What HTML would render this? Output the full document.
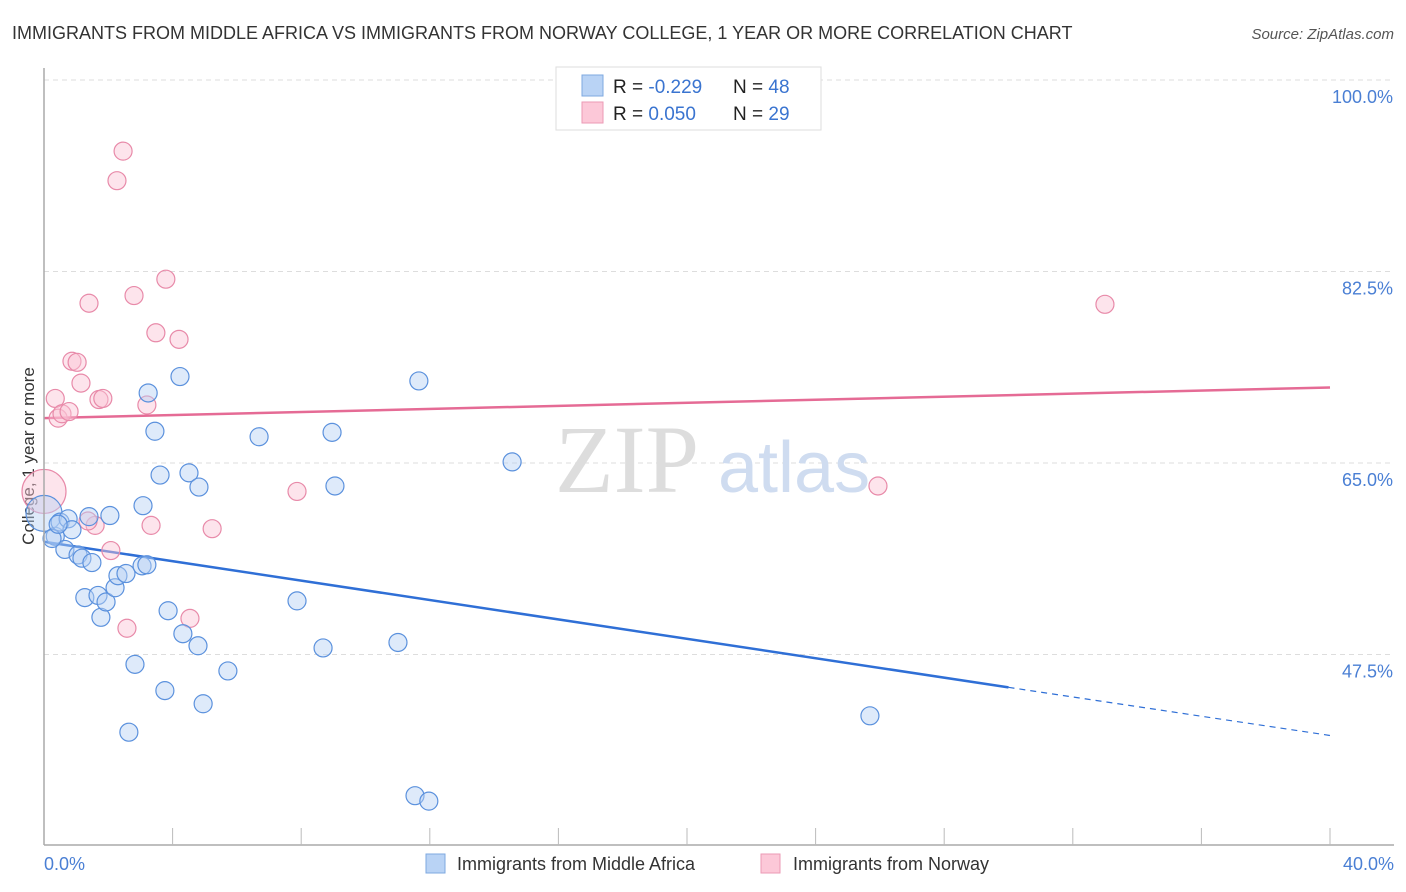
<!DOCTYPE html>
<html><head><meta charset="utf-8"><style>
body{margin:0;background:#fff;font-family:"Liberation Sans",sans-serif;}
svg{display:block}
</style></head><body>
<svg id="chart" width="1406" height="892" xmlns="http://www.w3.org/2000/svg">
<text x="12" y="39" font-size="18" fill="#333">IMMIGRANTS FROM MIDDLE AFRICA VS IMMIGRANTS FROM NORWAY COLLEGE, 1 YEAR OR MORE CORRELATION CHART</text>
<text x="1394" y="39" font-size="15" fill="#555" font-style="italic" text-anchor="end">Source: ZipAtlas.com</text>
<text transform="translate(34,456) rotate(-90)" font-size="17" fill="#333" text-anchor="middle">College, 1 year or more</text>
<g id="grid"></g>
<text x="555" y="492" font-size="96" fill="#ddd" font-family="Liberation Serif,serif">ZIP</text>
<text x="718" y="492" font-size="72" fill="#cfdcf0">atlas</text>
<g id="trend"></g>
<g id="points"></g>
<line x1="44" y1="68" x2="44" y2="845" stroke="#aaa" stroke-width="1.5"/>
<line x1="44" y1="845" x2="1394" y2="845" stroke="#aaa" stroke-width="1.5"/>
<g id="xticks"></g>
<text x="44" y="870" font-size="18" fill="#4a7fd4">0.0%</text>
<text x="1394" y="870" font-size="18" fill="#4a7fd4" text-anchor="end">40.0%</text>
<g>
<rect x="556" y="67" width="265" height="63" fill="#fff" stroke="#ddd"/>
<rect x="582" y="75" width="21" height="21" fill="#b9d3f5" stroke="#7ea8e0"/>
<rect x="582" y="102" width="21" height="21" fill="#fcc8d8" stroke="#eb9ab5"/>
<text x="613" y="93" font-size="19" fill="#222">R = <tspan fill="#3a74d0">-0.229</tspan></text>
<text x="733" y="93" font-size="19" fill="#222">N = <tspan fill="#3a74d0">48</tspan></text>
<text x="613" y="120" font-size="19" fill="#222">R = <tspan fill="#3a74d0"> 0.050</tspan></text>
<text x="733" y="120" font-size="19" fill="#222">N = <tspan fill="#3a74d0">29</tspan></text>
</g>
<g>
<rect x="426" y="854" width="19" height="19" fill="#b9d3f5" stroke="#7ea8e0"/>
<text x="457" y="870" font-size="18" fill="#333">Immigrants from Middle Africa</text>
<rect x="761" y="854" width="19" height="19" fill="#fcc8d8" stroke="#eb9ab5"/>
<text x="793" y="870" font-size="18" fill="#333">Immigrants from Norway</text>
</g>
</svg>
<script>
const yTicks=[100,82.5,65,47.5];
const yTickLabels=["100.0%","82.5%","65.0%","47.5%"];
const xTickVals=[4,8,12,16,20,24,28,32,36,40];
const blueX=[0.0,0.35,0.5,0.65,0.75,0.87,1.06,1.18,1.4,1.49,1.27,1.68,1.77,1.93,2.05,2.21,2.3,2.55,2.64,2.83,3.05,3.2,3.08,3.24,3.45,3.61,3.76,3.86,4.23,4.32,4.51,4.79,4.82,4.95,5.72,6.69,7.87,8.68,8.96,9.05,11.01,11.54,11.66,11.97,14.56,25.69,0.25,0.44];
const blueY=[60.4,58.3,59.6,57.1,59.9,58.9,56.6,56.3,60.1,55.9,52.7,52.9,50.9,52.3,60.2,53.6,54.7,54.9,40.4,46.6,55.6,55.7,61.1,71.4,67.9,63.9,44.2,51.5,72.9,49.4,64.1,48.3,62.8,43.0,46.0,67.4,52.4,48.1,67.8,62.9,48.6,34.6,72.5,34.1,65.1,41.9,58.1,59.4];
const blueR=[18,9,9,9,9,9,9,9,9,9,9,9,9,9,9,9,9,9,9,9,9,9,9,9,9,9,9,9,9,9,9,9,9,9,9,9,9,9,9,9,9,9,9,9,9,9,9,9];
const pinkX=[0.0,0.35,0.44,0.56,0.78,0.87,1.03,1.15,1.4,1.59,1.71,1.83,2.08,2.27,2.46,2.58,2.8,3.2,3.33,3.48,3.79,4.2,4.54,5.23,7.87,25.94,33.0,1.37];
const pinkY=[62.4,70.9,69.1,69.5,69.7,74.3,74.2,72.3,79.6,59.3,70.8,70.9,57.0,90.8,93.5,49.9,80.3,70.3,59.3,76.9,81.8,76.3,50.8,59.0,62.4,62.9,79.5,59.7];
const pinkR=[22,9,9,9,9,9,9,9,9,9,9,9,9,9,9,9,9,9,9,9,9,9,9,9,9,9,9,9];
const blueTrend=[[0,57.8],[30,44.5],[40,40.1]];
const pinkTrend=[[0,69.1],[40,71.9]];
const NS="http://www.w3.org/2000/svg";
function sx(v){return 44+v*32.15;}
function sy(v){return 80+(100-v)*10.943;}
function mk(tag,attrs,parent){const e=document.createElementNS(NS,tag);for(const k in attrs)e.setAttribute(k,attrs[k]);parent.appendChild(e);return e;}
const grid=document.getElementById('grid');
yTicks.forEach((t,i)=>{
 const l=mk('line',{x1:44,x2:1394,y1:sy(t),y2:sy(t),stroke:'#ddd','stroke-dasharray':'5,4'},grid);
 
 
 const tx=mk('text',{x:1393,y:sy(t)+23,'font-size':18,fill:'#4a7fd4','text-anchor':'end'},grid);
 tx.textContent=yTickLabels[i];
 
 
});
const xt=document.getElementById('xticks');
xTickVals.forEach(v=>{
 const l=mk('line',{x1:sx(v),x2:sx(v),y1:828,y2:845,stroke:'#bbb'},xt);
 
 
});
const pts=document.getElementById('points');
function drawPts(X,Y,R,fill,stroke,name){
 X.forEach((x,i)=>{
  const c=mk('circle',{cx:sx(x),cy:sy(Y[i]),r:R[i],fill:fill,'fill-opacity':0.45,stroke:stroke,'stroke-width':1.2},pts);
  
  
 });
}
drawPts(pinkX,pinkY,pinkR,'#fbc3d4','#e88aa9','norway-point');
drawPts(blueX,blueY,blueR,'#b5d0f3','#5b91dd','middle-africa-point');
const tr=document.getElementById('trend');
const b1=mk('line',{x1:sx(blueTrend[0][0]),y1:sy(blueTrend[0][1]),x2:sx(blueTrend[1][0]),y2:sy(blueTrend[1][1]),stroke:'#2f6fd6','stroke-width':2.5},tr);


const b2=mk('line',{x1:sx(blueTrend[1][0]),y1:sy(blueTrend[1][1]),x2:sx(blueTrend[2][0]),y2:sy(blueTrend[2][1]),stroke:'#2f6fd6','stroke-width':1.2,'stroke-dasharray':'6,5'},tr);


const p1=mk('line',{x1:sx(pinkTrend[0][0]),y1:sy(pinkTrend[0][1]),x2:sx(pinkTrend[1][0]),y2:sy(pinkTrend[1][1]),stroke:'#e56b95','stroke-width':2.5},tr);


</script>
</body></html>
